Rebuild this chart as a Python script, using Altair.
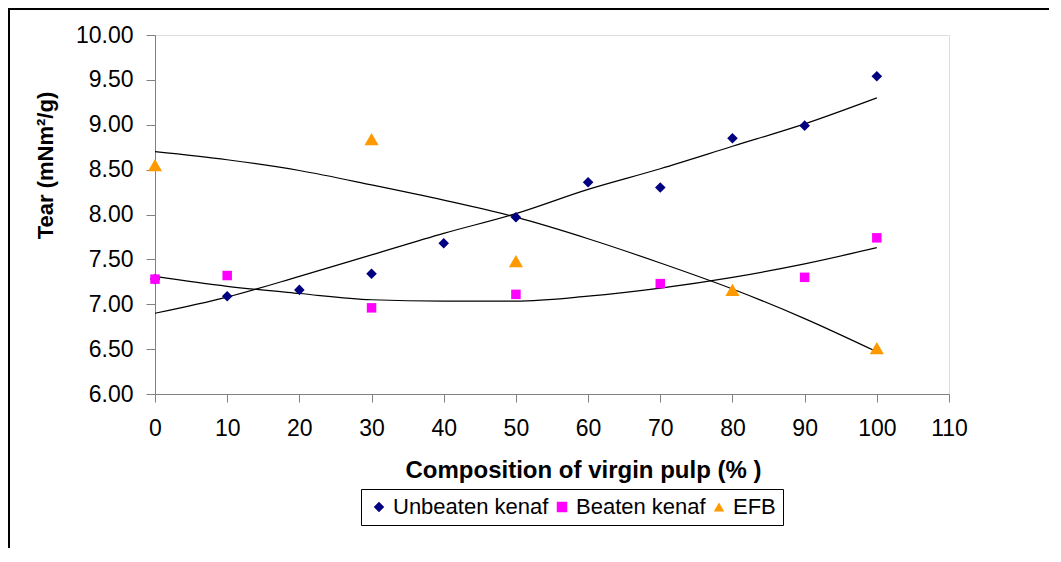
import altair as alt
import pandas as pd

# ---- data ----
series_names = ["Unbeaten kenaf", "Beaten kenaf", "EFB"]
series_colors = ["#000080", "#FF00FF", "#FF9900"]
series_shapes = ["diamond", "square", "triangle-up"]

unbeaten_x = [0, 10, 20, 30, 40, 50, 60, 70, 80, 90, 100]
unbeaten_y = [7.28, 7.09, 7.16, 7.34, 7.68, 7.97, 8.36, 8.30, 8.85, 8.99, 9.54]

beaten_x = [0, 10, 30, 50, 70, 90, 100]
beaten_y = [7.28, 7.32, 6.96, 7.11, 7.23, 7.30, 7.74]

efb_x = [0, 30, 50, 80, 100]
efb_y = [8.55, 8.84, 7.48, 7.16, 6.51]

trend_x = [0, 10, 20, 30, 40, 50, 60, 70, 80, 90, 100]
unbeaten_trend = [6.90, 7.08, 7.31, 7.55, 7.79, 8.01, 8.28, 8.51, 8.76, 9.01, 9.30]
beaten_trend = [7.31, 7.20, 7.12, 7.05, 7.035, 7.035, 7.09, 7.18, 7.30, 7.45, 7.63]
efb_trend = [8.70, 8.61, 8.49, 8.33, 8.16, 7.97, 7.73, 7.46, 7.17, 6.84, 6.47]

x_ticks = [0, 10, 20, 30, 40, 50, 60, 70, 80, 90, 100, 110]
y_ticks = [6.0, 6.5, 7.0, 7.5, 8.0, 8.5, 9.0, 9.5, 10.0]

# ---- tables ----
pts = pd.concat([
    pd.DataFrame({"x": unbeaten_x, "y": unbeaten_y, "s": series_names[0]}),
    pd.DataFrame({"x": beaten_x, "y": beaten_y, "s": series_names[1]}),
    pd.DataFrame({"x": efb_x, "y": efb_y, "s": series_names[2]}),
], ignore_index=True)

trend = pd.concat([
    pd.DataFrame({"x": trend_x, "y": unbeaten_trend, "s": series_names[0]}),
    pd.DataFrame({"x": trend_x, "y": beaten_trend, "s": series_names[1]}),
    pd.DataFrame({"x": trend_x, "y": efb_trend, "s": series_names[2]}),
], ignore_index=True)

FONT = "Liberation Sans"
W, H = 794, 359

xscale = alt.Scale(domain=[0, 110], nice=False)
yscale = alt.Scale(domain=[6, 10], nice=False, zero=False)

xaxis = alt.Axis(values=x_ticks, title="Composition of virgin pulp (% )", grid=False,
                 tickSize=8, labelPadding=15, labelFontSize=23, labelFont=FONT,
                 labelFlush=False, labelOverlap=False,
                 titleFont=FONT, titleFontSize=24, titleFontWeight="bold",
                 titleX=428, titleY=83, titleBaseline="alphabetic", titleAlign="center",
                 domainColor="#808080", tickColor="#808080", labelColor="black")
yaxis = alt.Axis(values=y_ticks, format=".2f", title="Tear (mNm²/g)", grid=False,
                 tickSize=9, labelPadding=13, labelFontSize=23, labelFont=FONT,
                 labelFlush=False, labelOverlap=False,
                 titleFont=FONT, titleFontSize=22, titleFontWeight="bold",
                 titleAngle=270, titleX=-110, titleY=130, titleAlign="center",
                 titleBaseline="middle",
                 domainColor="#808080", tickColor="#808080", labelColor="black")

legend = alt.Legend(title=None, orient="none", legendX=206, legendY=454,
                    direction="horizontal", labelFont=FONT, labelFontSize=22,
                    labelColor="black", labelLimit=400, labelOffset=3,
                    columnPadding=2, padding=7, symbolSize=110,
                    strokeColor="black", fillColor="white",
                    symbolStrokeWidth=0)

color_enc = alt.Color("s:N", scale=alt.Scale(domain=series_names, range=series_colors),
                      legend=legend)
shape_enc = alt.Shape("s:N", scale=alt.Scale(domain=series_names, range=series_shapes),
                      legend=legend)

lines = alt.Chart(trend).mark_line(color="black", strokeWidth=1.2, interpolate="monotone").encode(
    x=alt.X("x:Q", scale=xscale, axis=xaxis),
    y=alt.Y("y:Q", scale=yscale, axis=yaxis),
    detail="s:N",
)


def point_layer(name, size):
    return alt.Chart(pts).transform_filter(
        alt.datum.s == name
    ).mark_point(filled=True, opacity=1, size=size).encode(
        x=alt.X("x:Q", scale=xscale),
        y=alt.Y("y:Q", scale=yscale),
        color=color_enc,
        shape=shape_enc,
    )


unbeaten_pts = point_layer(series_names[0], 112)
beaten_pts = point_layer(series_names[1], 90)
efb_pts = point_layer(series_names[2], 200)

frame_df = pd.DataFrame({"a": [0]})
left_border = alt.Chart(frame_df).mark_rule(color="black", strokeWidth=2).encode(
    x=alt.value(-146), y=alt.value(-27), y2=alt.value(H + 170))
top_border = alt.Chart(frame_df).mark_rule(color="black", strokeWidth=2).encode(
    x=alt.value(-147), x2=alt.value(W + 110), y=alt.value(-26))

chart = alt.layer(lines, unbeaten_pts, beaten_pts, efb_pts, left_border, top_border).properties(
    width=W, height=H,
    autosize=alt.AutoSizeParams(type="none"),
    padding={"left": 147, "top": 27, "right": 100, "bottom": 154},
).configure_view(stroke=None).configure(background="white")

chart.save("out.html", embed_options={"renderer": "svg", "actions": False})
